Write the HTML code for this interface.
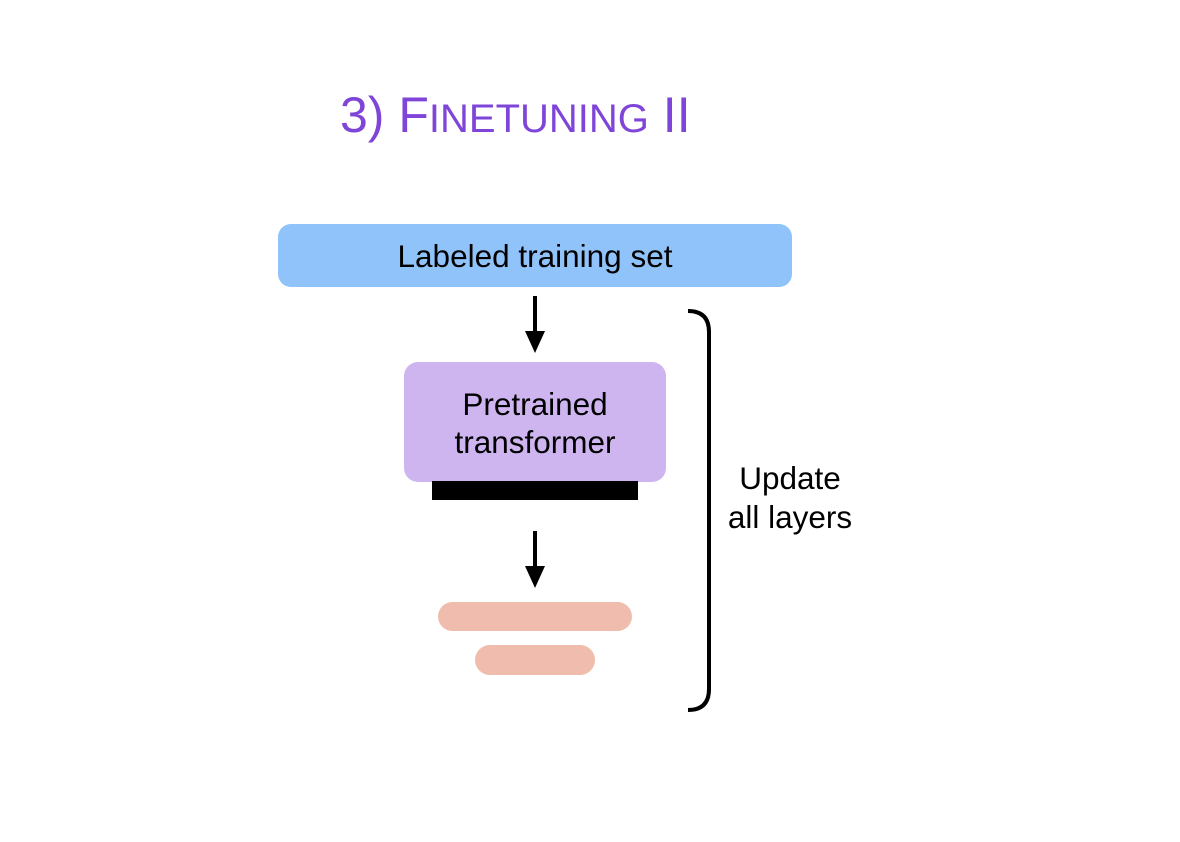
<!DOCTYPE html>
<html><head><meta charset="utf-8"><style>
html,body{margin:0;padding:0;background:#fff;}
svg{display:block;}
text{font-family:"Liberation Sans",Arial,sans-serif;}
</style></head><body>
<svg width="1180" height="842" viewBox="0 0 1180 842" xmlns="http://www.w3.org/2000/svg">
<rect width="1180" height="842" fill="#fff"/>
<text x="340" y="132" fill="#7f45d8" font-size="50">3) F<tspan font-size="40">INETUNING</tspan> II</text>
<rect x="278" y="224" width="514" height="63" rx="13" fill="#8fc3fa"/>
<text x="535" y="267" font-size="31.5" text-anchor="middle" fill="#000">Labeled training set</text>
<line x1="535" y1="296" x2="535" y2="333" stroke="#000" stroke-width="4"/>
<polygon points="525,331 545,331 535,353" fill="#000"/>
<rect x="404" y="362" width="262" height="120" rx="14" fill="#cfb5f0"/>
<text x="535" y="415" font-size="31.5" text-anchor="middle" fill="#000">Pretrained</text>
<text x="535" y="453" font-size="31.5" text-anchor="middle" fill="#000">transformer</text>
<rect x="432" y="481" width="206" height="19" fill="#000"/>
<line x1="535" y1="531" x2="535" y2="568" stroke="#000" stroke-width="4"/>
<polygon points="525,566 545,566 535,588" fill="#000"/>
<rect x="438" y="602" width="194" height="29" rx="14.5" fill="#f0bcad"/>
<rect x="475" y="645" width="120" height="30" rx="15" fill="#f0bcad"/>
<path d="M688,311 Q709,311 709,332 L709,689 Q709,710 688,710" fill="none" stroke="#000" stroke-width="4"/>
<text x="790" y="489" font-size="31.5" text-anchor="middle" fill="#000">Update</text>
<text x="790" y="528" font-size="31.5" text-anchor="middle" fill="#000">all layers</text>
</svg>
</body></html>
